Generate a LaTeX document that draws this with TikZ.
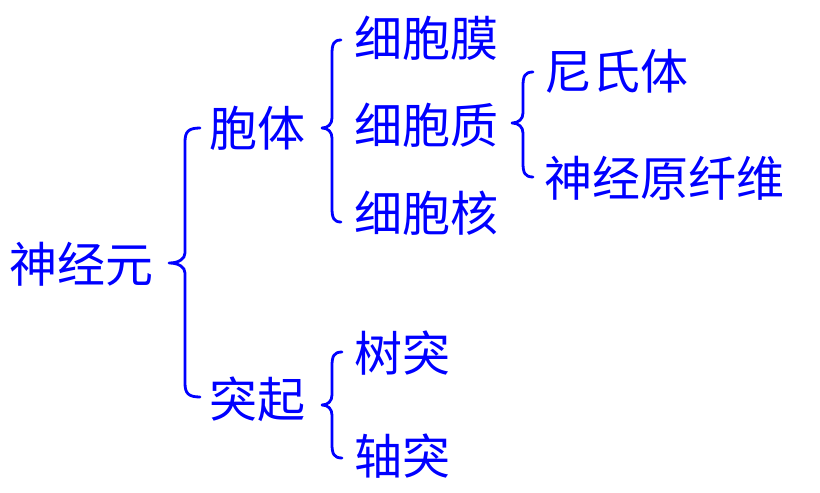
\documentclass[tikz,border=0pt]{standalone}
\usepackage{fontspec}
\newfontfamily\cjk{Noto Sans CJK SC}
\definecolor{tblue}{RGB}{0,0,255}
\tikzset{
  lbl/.style={anchor=west, inner sep=0pt, text=tblue, font=\cjk\fontsize{48}{52}\selectfont},
  brace/.style={draw=tblue, line width=2.8pt, line cap=round, line join=round}
}
% #1 vertical x, #2 hook width, #3 tip width, #4 top y, #5 tip y, #6 bottom y
\newcommand\cbrace[6]{%
  \draw[brace] ({#1+#2},#4) .. controls ({#1+0.2*#2},#4) and (#1,{#4+4}) .. (#1,{#4+14})
    -- (#1,{#5-10}) .. controls (#1,{#5-4}) and ({#1-0.4*#3},#5) .. ({#1-#3},#5)
    .. controls ({#1-0.4*#3},#5) and (#1,{#5+4}) .. (#1,{#5+10})
    -- (#1,{#6-14}) .. controls (#1,{#6-4}) and ({#1+0.2*#2},#6) .. ({#1+#2},#6);}
\begin{document}
\begin{tikzpicture}[x=1pt,y=-1pt]
\useasboundingbox (0,0) rectangle (820,493);
\node[lbl] (shen) at (9,264) {神经元};
\node[lbl] (baoti) at (209,128) {胞体};
\node[lbl] (tuqi) at (209,399) {突起};
\node[lbl] (mo) at (354,38) {细胞膜};
\node[lbl] (zhi) at (354,125) {细胞质};
\node[lbl] (he) at (354,213) {细胞核};
\node[lbl] (ni) at (544,71) {尼氏体};
\node[lbl] (xw) at (544,178) {神经原纤维};
\node[lbl] (shu) at (354,353) {树突};
\node[lbl] (zhou) at (354,456) {轴突};
\cbrace{185}{15}{16}{128}{263}{397}
\cbrace{332}{9}{10}{40}{128}{222}
\cbrace{523}{10}{11}{72}{123}{177}
\cbrace{332}{10}{10}{352}{405}{458}
\end{tikzpicture}
\end{document}
